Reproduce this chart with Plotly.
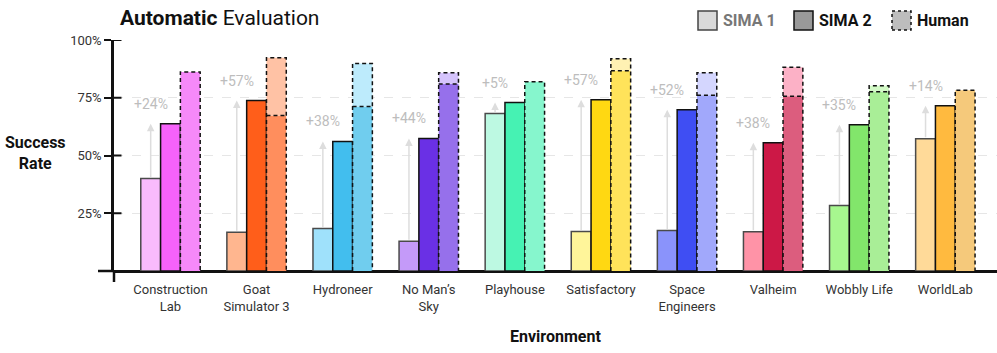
import plotly.graph_objects as go

# ---------------- data ----------------
environments = ["Construction<br>Lab", "Goat<br>Simulator 3", "Hydroneer", "No Man’s<br>Sky",
                "Playhouse", "Satisfactory", "Space<br>Engineers", "Valheim", "Wobbly Life", "WorldLab"]
sima1 = [40.0, 16.8, 18.4, 12.9, 68.2, 17.1, 17.5, 17.0, 28.4, 57.2]
sima2 = [63.7, 73.8, 56.1, 57.4, 72.9, 74.1, 69.8, 55.5, 63.3, 71.5]
human_base = [86.2, 67.3, 71.2, 81.0, 81.9, 86.7, 76.1, 75.7, 77.6, 78.3]
human_total = [86.2, 92.3, 89.8, 85.8, 81.9, 91.9, 85.8, 88.2, 80.2, 78.3]
gain_labels = ["+24%", "+57%", "+38%", "+44%", "+5%", "+57%", "+52%", "+38%", "+35%", "+14%"]
y_ticks = [25, 50, 75, 100]
y_ticklabels = ["25%", "50%", "75%", "100%"]

col_sima1 = ["#F9BBFC", "#FFB68F", "#9FE1FB", "#C49AF9", "#BDF9E2", "#FFF59A", "#8A93FB", "#FF93A7", "#A7F78F", "#FFDA99"]
col_sima2 = ["#F662FA", "#FF5E1A", "#42BEEE", "#6A30E5", "#46F2B3", "#FFD812", "#3F4EF3", "#CC1846", "#82E66B", "#FFBA3F"]
col_human = ["#F689F9", "#FF8E5D", "#70CDEE", "#9670EB", "#86F6CD", "#FFE35A", "#A1A8FB", "#DC5D7E", "#A9EE97", "#F5C97B"]
col_human_up = ["#F689F9", "#FFC2A5", "#BDEBFC", "#D5C4FC", "#86F6CD", "#FFF1B3", "#D4D6FE", "#FCB1C6", "#D3FAC7", "#F5C97B"]

FONT = "Roboto"
W = 0.23
idx = list(range(len(environments)))

# ---------------- geometry helpers (page pixels -> paper) ----------------
L, R, T, B = 114, 0, 40, 82
PW, PH = 997 - L - R, 353 - T - B
def px(x):
    return (x - L) / PW
def py(y):
    return (353 - B - y) / PH

fig = go.Figure()

fig.add_trace(go.Bar(x=[i - W for i in idx], y=sima1, width=W, name="SIMA 1",
                     marker=dict(color=col_sima1, line=dict(color="#4a4a4a", width=1.5)),
                     showlegend=False))
fig.add_trace(go.Bar(x=idx, y=sima2, width=W, name="SIMA 2",
                     marker=dict(color=col_sima2, line=dict(color="#111111", width=1.5)),
                     showlegend=False))
fig.add_trace(go.Bar(x=[i + W for i in idx], y=human_base, width=W, name="Human",
                     marker=dict(color=col_human, line=dict(width=0)), showlegend=False))
fig.add_trace(go.Bar(x=[i + W for i in idx],
                     y=[t - b for t, b in zip(human_total, human_base)],
                     base=human_base, width=W, name="Human (upper)",
                     marker=dict(color=col_human_up, line=dict(width=0)), showlegend=False))

# dashed outline of human bars
ox, oy = [], []
for i, b, t in zip(idx, human_base, human_total):
    x0, x1 = i + W / 2, i + 3 * W / 2
    ox += [x0, x0, x1, x1, None]
    oy += [0, t, t, 0, None]
    if t - b > 0.5:
        ox += [x0, x1, None]
        oy += [b, b, None]
fig.add_trace(go.Scatter(x=ox, y=oy, mode="lines", showlegend=False, hoverinfo="skip",
                         line=dict(color="#111111", width=1.5, dash="4px,3px")))

annotations = []
for i, s1, s2, g in zip(idx, sima1, sima2, gain_labels):
    annotations.append(dict(x=i - W, y=s2, ax=i - W, ay=s1, xref="x", yref="y",
                            axref="x", ayref="y", text="", showarrow=True,
                            arrowhead=2, arrowsize=1, arrowwidth=1.5, arrowcolor="#dddddd"))
    annotations.append(dict(x=i - W, y=s2, xref="x", yref="y", text=g, showarrow=False,
                            xanchor="center", yanchor="bottom", yshift=10,
                            font=dict(family=FONT, size=14, color="#bdbdbd")))

# axis labels
annotations.append(dict(x=px(35), y=py(153), xref="paper", yref="paper",
                        xanchor="center", yanchor="middle",
                        text="<b>Success<br>Rate</b>", showarrow=False,
                        font=dict(family=FONT, size=16, color="#111111")))
annotations.append(dict(x=px(555), y=py(336), xref="paper", yref="paper",
                        xanchor="center", yanchor="middle",
                        text="<b>Environment</b>", showarrow=False,
                        font=dict(family=FONT, size=16, color="#111111")))

# legend
legend_items = [("SIMA 1", "#d9d9d9", "#444444", "solid", "#777777", 698),
                ("SIMA 2", "#999999", "#111111", "solid", "#111111", 794),
                ("Human", "#bdbdbd", "#111111", "dot", "#111111", 892)]
shapes = []
for name, fill, lc, dash, tc, x0 in legend_items:
    shapes.append(dict(type="rect", xref="paper", yref="paper",
                       x0=px(x0), x1=px(x0 + 19), y0=py(30), y1=py(11),
                       fillcolor=fill, line=dict(color=lc, width=1.5, dash=dash)))
    annotations.append(dict(x=px(x0 + 23), y=py(20.5), xref="paper", yref="paper",
                            text=f"<b>{name}</b>", showarrow=False,
                            xanchor="left", yanchor="middle",
                            font=dict(family=FONT, size=16, color=tc)))

# axis stubs and crossing ticks
shapes.append(dict(type="line", xref="paper", yref="paper", x0=px(98), x1=0, y0=0, y1=0,
                   line=dict(color="#111111", width=2.5)))
shapes.append(dict(type="line", xref="paper", yref="paper", x0=0, x1=0, y0=0, y1=py(282),
                   line=dict(color="#111111", width=2.5)))
for v in y_ticks:
    shapes.append(dict(type="line", xref="paper", yref="y", x0=0, x1=px(121.5), y0=v, y1=v,
                       line=dict(color="#111111", width=2)))

fig.update_layout(
    width=997, height=353,
    margin=dict(l=L, r=R, t=T, b=B, autoexpand=False),
    paper_bgcolor="white", plot_bgcolor="white",
    barmode="overlay",
    hovermode=False,
    title=dict(text="<b>Automatic</b> Evaluation", x=120 / 997, xanchor="left",
               y=1 - 18 / 353, yanchor="middle", xref="container", yref="container",
               font=dict(family=FONT, size=21, color="#111111")),
    font=dict(family=FONT, size=13, color="#333333"),
    annotations=annotations,
    shapes=shapes,
    xaxis=dict(range=[-0.656, 9.6], tickvals=idx, ticktext=environments,
               showgrid=False, zeroline=False, showline=False, ticks="",
               ticklabelstandoff=9, automargin=False, fixedrange=True,
               tickfont=dict(family=FONT, size=13, color="#333333")),
    yaxis=dict(range=[0, 100], tickvals=y_ticks, ticktext=y_ticklabels,
               showgrid=True, gridcolor="#e6e6e6", griddash="dash", gridwidth=1,
               zeroline=True, zerolinecolor="#111111", zerolinewidth=2.5,
               showline=True, linecolor="#111111", linewidth=2.5, automargin=False,
               fixedrange=True,
               ticks="outside", ticklen=7, tickwidth=2, tickcolor="#111111",
               tickfont=dict(family=FONT, size=13, color="#333333")),
)

fig.write_html("out.html", config={"displayModeBar": False},
               post_script="document.body.style.margin='0';")
